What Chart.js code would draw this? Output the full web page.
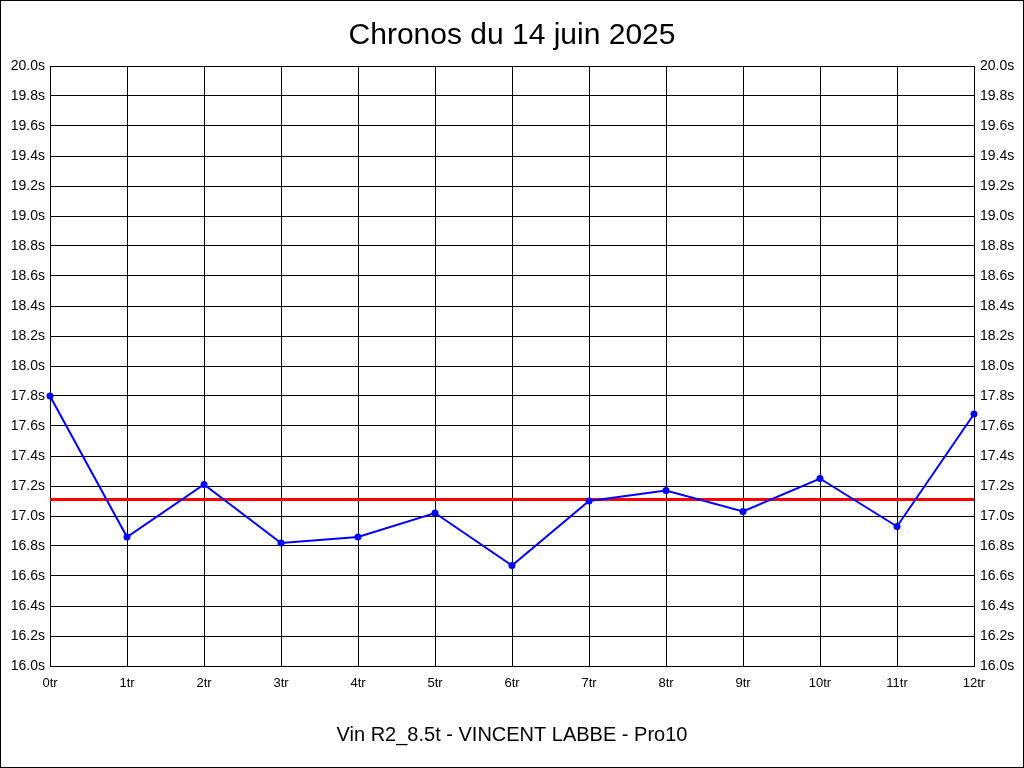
<!DOCTYPE html>
<html>
<head>
<meta charset="utf-8">
<script src="https://cdn.jsdelivr.net/npm/chart.js@4"></script>
<style>
  body { margin: 0; background: #fff; }
  #chart { display: block; }
</style>
</head>
<body>
<canvas id="chart" width="1024" height="768"></canvas>
<script>
var labels = ['0tr', '1tr', '2tr', '3tr', '4tr', '5tr', '6tr', '7tr', '8tr', '9tr', '10tr', '11tr', '12tr'];
var chronos = [17.80, 16.86, 17.21, 16.82, 16.86, 17.02, 16.67, 17.10, 17.17, 17.03, 17.25, 16.93, 17.68];
var moyenne = 17.11;
var yMin = 16.0;
var yMax = 20.0;
var yStep = 0.2;

// fond blanc + cadre noir
var cadre = {
    id: 'cadre',
    beforeDraw: function(chart) {
        var ctx = chart.ctx;
        ctx.save();
        ctx.fillStyle = '#fff';
        ctx.fillRect(0, 0, chart.width, chart.height);
        ctx.strokeStyle = '#000';
        ctx.lineWidth = 1;
        ctx.strokeRect(0.5, 0.5, chart.width - 1, chart.height - 1);
        ctx.restore();
    }
};

Chart.defaults.font.family = "'Liberation Sans', Arial, sans-serif";
Chart.defaults.color = '#000';

function tickLabel(value) {
    return Number(value).toFixed(1) + 's';
}

var ctx = document.getElementById('chart');
var myChart = new Chart(ctx, {
    type: 'line',
    data: {
        labels: labels,
        datasets: [
            {
                data: chronos,
                borderColor: '#0000ff',
                backgroundColor: '#0000ff',
                borderWidth: 2,
                pointRadius: 3.5,
                pointBorderWidth: 0,
                tension: 0,
                clip: 6
            },
            {
                data: [{x: labels[0], y: moyenne}, {x: labels[labels.length - 1], y: moyenne}],
                borderColor: '#ff0000',
                borderWidth: 3,
                pointRadius: 0,
                tension: 0
            }
        ]
    },
    options: {
        responsive: false,
        animation: false,
        layout: { padding: 0 },
        plugins: {
            legend: { display: false },
            tooltip: { enabled: false },
            title: {
                display: true,
                text: 'Chronos du 14 juin 2025',
                color: '#000',
                font: { size: 30, weight: 'normal' },
                padding: { top: 18, bottom: 12 }
            },
            subtitle: {
                display: true,
                position: 'bottom',
                text: 'Vin R2_8.5t - VINCENT LABBE - Pro10',
                color: '#000',
                font: { size: 20, weight: 'normal' },
                padding: { top: 10, bottom: 21 }
            }
        },
        scales: {
            x: {
                offset: false,
                grid: { color: '#000', drawTicks: false },
                border: { color: '#000' },
                ticks: { padding: 10, font: { size: 13 }, maxRotation: 0, autoSkip: false },
                afterFit: function(axis) { axis.height = 47; }
            },
            y: {
                position: 'left',
                min: yMin,
                max: yMax,
                grid: { color: '#000', drawTicks: false },
                border: { color: '#000' },
                ticks: { stepSize: yStep, padding: 5, font: { size: 14 }, callback: tickLabel },
                afterFit: function(axis) { axis.width = 50; }
            },
            y1: {
                position: 'right',
                min: yMin,
                max: yMax,
                grid: { display: false, drawTicks: false },
                border: { color: '#000' },
                ticks: { stepSize: yStep, padding: 6, font: { size: 14 }, callback: tickLabel },
                afterFit: function(axis) { axis.width = 50; }
            }
        }
    },
    plugins: [cadre]
});
</script>
</body>
</html>
